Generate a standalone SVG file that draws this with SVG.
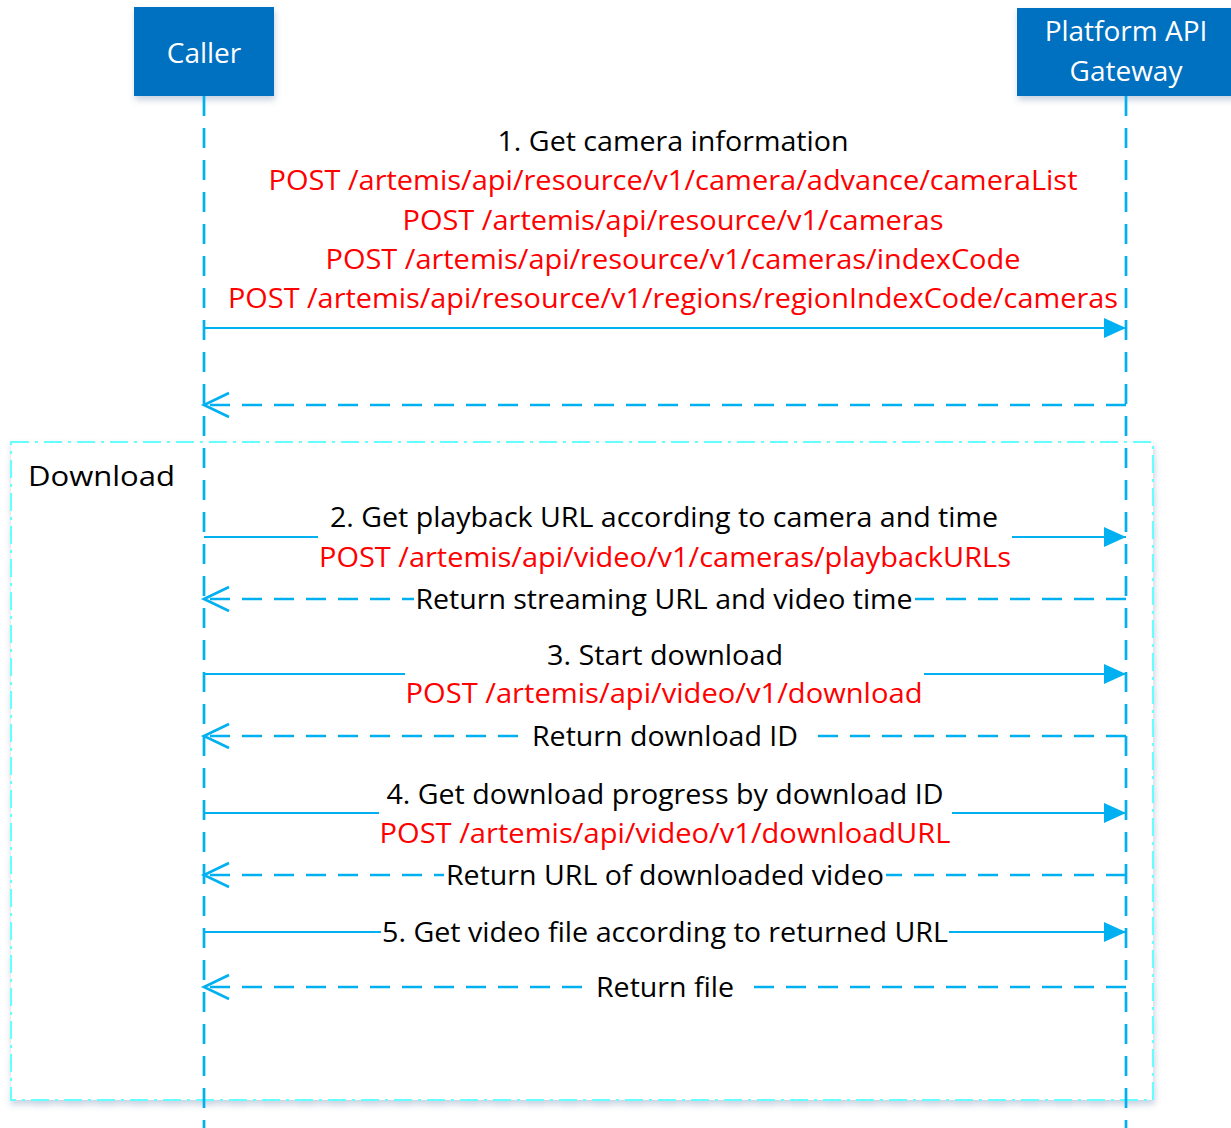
<svg xmlns="http://www.w3.org/2000/svg" width="1231" height="1128" viewBox="0 0 1231 1128">
<style>
.t{font-family:"Open Sans","Noto Sans","Liberation Sans",sans-serif;font-size:28px;fill:#000;text-anchor:middle}
.r{fill:#FF0000}
.w{fill:#fff}
.hdr{font-family:"Open Sans","Noto Sans","Liberation Sans",sans-serif;font-size:28px;fill:#fff;text-anchor:middle}
.life{stroke:#00B0F0;stroke-width:2.7;stroke-dasharray:20 12;fill:none}
.msg{stroke:#00B0F0;stroke-width:2.2;fill:none}
.ret{stroke:#00B0F0;stroke-width:2.7;stroke-dasharray:20 12;fill:none}
.box{fill:#0070C0}
</style>
<defs>
<filter id="sh" x="-10%" y="-10%" width="120%" height="130%">
<feDropShadow dx="1" dy="4" stdDeviation="3" flood-color="#4a6a9a" flood-opacity="0.3"/>
</filter>
<marker id="fa" markerUnits="userSpaceOnUse" markerWidth="24" markerHeight="22" refX="22" refY="10" orient="auto" viewBox="0 0 24 22">
<path d="M0,0 L22,10 L0,20 Z" fill="#00B0F0"/>
</marker>
<marker id="oa" markerUnits="userSpaceOnUse" markerWidth="30" markerHeight="30" refX="26" refY="13" orient="auto" viewBox="0 0 30 30">
<path d="M1,1 L26,13 L1,25" fill="none" stroke="#00B0F0" stroke-width="2.7" stroke-dasharray="none"/>
</marker>
</defs>

<g id="frame-download">
<rect x="11" y="442" width="1142" height="658" fill="#fff" stroke="#66FFFF" stroke-width="2" stroke-dasharray="18 6 3 6" filter="url(#sh)"/>
<text class="t" x="101.5" y="486" textLength="147" lengthAdjust="spacingAndGlyphs">Download</text>
</g>

<g id="node-caller">
<rect class="box" x="134" y="7" width="140" height="89" filter="url(#sh)"/>
<text class="hdr" x="204" y="63">Caller</text>
</g>
<g id="node-gateway">
<rect class="box" x="1017" y="8" width="220" height="88" filter="url(#sh)"/>
<text class="hdr" x="1126" y="41">Platform API</text>
<text class="hdr" x="1126" y="81">Gateway</text>
</g>

<g id="connectors">
<line class="life" x1="204" y1="96" x2="204" y2="1128"/>
<line class="life" x1="1126" y1="96" x2="1126" y2="1128"/>

<line class="msg" x1="204" y1="328" x2="1126" y2="328" marker-end="url(#fa)"/>
<line class="ret" x1="1126" y1="405" x2="204" y2="405" marker-end="url(#oa)"/>
<line class="msg" x1="204" y1="537" x2="1126" y2="537" marker-end="url(#fa)"/>
<line class="ret" x1="1126" y1="599" x2="204" y2="599" marker-end="url(#oa)"/>
<line class="msg" x1="204" y1="674" x2="1126" y2="674" marker-end="url(#fa)"/>
<line class="ret" x1="1126" y1="736" x2="204" y2="736" marker-end="url(#oa)"/>
<line class="msg" x1="204" y1="813" x2="1126" y2="813" marker-end="url(#fa)"/>
<line class="ret" x1="1126" y1="875" x2="204" y2="875" marker-end="url(#oa)"/>
<line class="msg" x1="204" y1="932" x2="1126" y2="932" marker-end="url(#fa)"/>
<line class="ret" x1="1126" y1="987" x2="204" y2="987" marker-end="url(#oa)"/>
</g>

<g id="label-1">
<text class="t" x="673" y="151" textLength="351" lengthAdjust="spacingAndGlyphs">1. Get camera information</text>
<text class="t r" x="673" y="190" textLength="809" lengthAdjust="spacingAndGlyphs">POST /artemis/api/resource/v1/camera/advance/cameraList</text>
<text class="t r" x="673" y="230" textLength="541" lengthAdjust="spacingAndGlyphs">POST /artemis/api/resource/v1/cameras</text>
<text class="t r" x="673" y="269" textLength="695" lengthAdjust="spacingAndGlyphs">POST /artemis/api/resource/v1/cameras/indexCode</text>
<text class="t r" x="673" y="308" textLength="890" lengthAdjust="spacingAndGlyphs">POST /artemis/api/resource/v1/regions/regionIndexCode/cameras</text>
</g>

<g id="label-2">
<rect class="w" x="318" y="502" width="694" height="72"/>
<text class="t" x="664" y="527" textLength="668" lengthAdjust="spacingAndGlyphs">2. Get playback URL according to camera and time</text>
<text class="t r" x="665" y="567" textLength="692" lengthAdjust="spacingAndGlyphs">POST /artemis/api/video/v1/cameras/playbackURLs</text>
</g>
<g id="label-2r">
<rect class="w" x="414" y="588" width="501" height="24"/>
<text class="t" x="664" y="609" textLength="497" lengthAdjust="spacingAndGlyphs">Return streaming URL and video time</text>
</g>

<g id="label-3">
<rect class="w" x="405" y="640" width="519" height="70"/>
<text class="t" x="665" y="665" textLength="236" lengthAdjust="spacingAndGlyphs">3. Start download</text>
<text class="t r" x="664" y="703" textLength="517" lengthAdjust="spacingAndGlyphs">POST /artemis/api/video/v1/download</text>
</g>
<g id="label-3r">
<rect class="w" x="530" y="725" width="280" height="24"/>
<text class="t" x="665" y="746" textLength="266" lengthAdjust="spacingAndGlyphs">Return download ID</text>
</g>

<g id="label-4">
<rect class="w" x="379" y="779" width="573" height="70"/>
<text class="t" x="665" y="804" textLength="557" lengthAdjust="spacingAndGlyphs">4. Get download progress by download ID</text>
<text class="t r" x="665" y="843" textLength="571" lengthAdjust="spacingAndGlyphs">POST /artemis/api/video/v1/downloadURL</text>
</g>
<g id="label-4r">
<rect class="w" x="444" y="864" width="442" height="24"/>
<text class="t" x="665" y="885" textLength="438" lengthAdjust="spacingAndGlyphs">Return URL of downloaded video</text>
</g>

<g id="label-5">
<rect class="w" x="381" y="920" width="568" height="24"/>
<text class="t" x="665" y="942" textLength="566" lengthAdjust="spacingAndGlyphs">5. Get video file according to returned URL</text>
</g>
<g id="label-5r">
<rect class="w" x="594" y="976" width="150" height="24"/>
<text class="t" x="665" y="997" textLength="138" lengthAdjust="spacingAndGlyphs">Return file</text>
</g>
</svg>
